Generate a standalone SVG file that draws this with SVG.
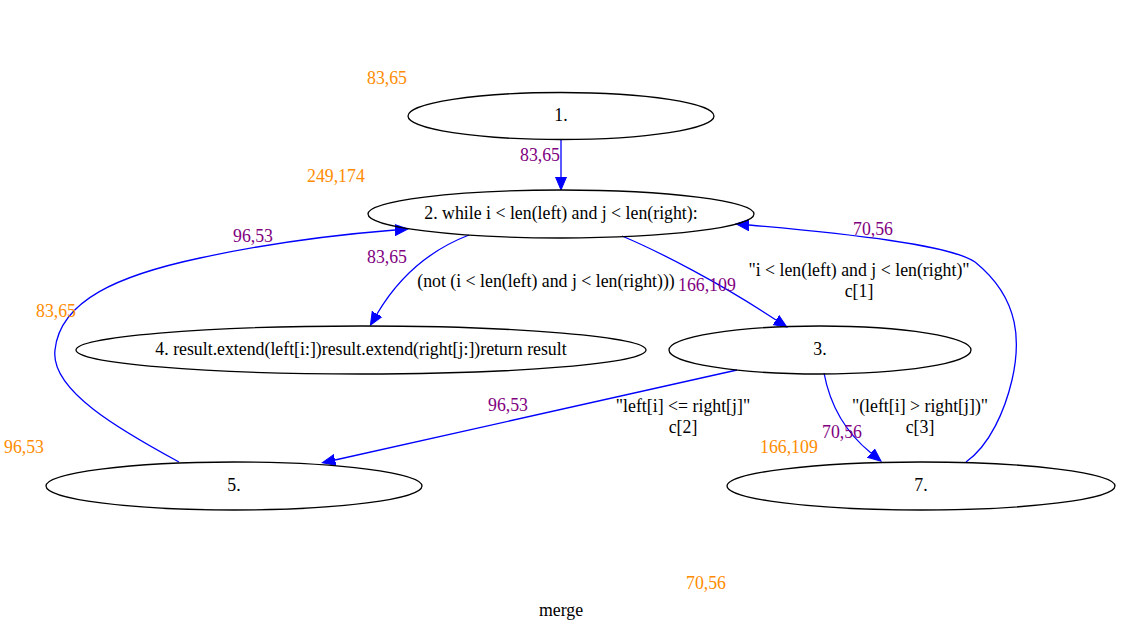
<svg xmlns="http://www.w3.org/2000/svg" width="1121" height="633" viewBox="0 0 1121 633">
<style>
text{font-family:'Liberation Serif','Times New Roman',Times,serif;font-size:17.8px;}
.n{fill:#000;text-anchor:middle;}
.x{fill:#ff8c00;}
.e{fill:#800080;}
.l{fill:#000;text-anchor:middle;}
ellipse{fill:none;stroke:#000;stroke-width:1.3;}
.c{fill:none;stroke:#0000ff;stroke-width:1.3;marker-end:url(#ah);}
</style>
<defs>
<marker id="ah" markerUnits="userSpaceOnUse" viewBox="0 -7 14 14" refX="0" refY="0" markerWidth="14" markerHeight="14" orient="auto">
<path d="M0,-5.5 L13,0 L0,5.5 z" fill="#0000ff" stroke="#0000ff" stroke-width="1"/>
</marker>
</defs>
<rect width="1121" height="633" fill="#fff"/>
<g id="edges" font-family="Liberation Serif, serif">
<path class="c" d="M561,140 L561,177"/>
<path class="c" d="M469,235 C430,250 400,275 377,314"/>
<path class="c" d="M622,236 C660,252 720,283 776,320"/>
<path class="c" d="M737,370 L335,460"/>
<path class="c" d="M824,373 C830,405 845,432 871,453"/>
<path class="c" d="M966,462 C990,445 1005,410 1012,380 C1020,345 1022,300 975,262 C950,245 850,234 749,225"/>
<path class="c" d="M179,462 C120,430 50,390 55,350 C60,300 120,275 200,258 C260,245 320,236 395,230"/>
<text class="e" x="520" y="161">83,65</text>
<text class="e" x="367" y="263">83,65</text>
<text class="l" x="546" y="287">(not (i &lt; len(left) and j &lt; len(right)))</text>
<text class="e" x="678" y="291">166,109</text>
<text class="l" x="859" y="276">"i &lt; len(left) and j &lt; len(right)"</text>
<text class="l" x="859" y="297">c[1]</text>
<text class="e" x="488" y="411">96,53</text>
<text class="l" x="683" y="412">"left[i] &lt;= right[j]"</text>
<text class="l" x="683" y="433">c[2]</text>
<text class="e" x="822" y="438">70,56</text>
<text class="l" x="920" y="412">"(left[i] &gt; right[j])"</text>
<text class="l" x="920" y="433">c[3]</text>
<text class="e" x="853" y="235">70,56</text>
<text class="e" x="233" y="242">96,53</text>
</g>
<g id="node1">
<ellipse cx="561" cy="116" rx="153" ry="23.5"/>
<text class="n" x="561" y="121">1.</text>
<text class="x" x="367" y="84">83,65</text>
</g>
<g id="node2">
<ellipse cx="561" cy="214" rx="193" ry="24"/>
<text class="n" x="561" y="219">2. while i &lt; len(left) and j &lt; len(right):</text>
<text class="x" x="307" y="182">249,174</text>
</g>
<g id="node4">
<ellipse cx="361" cy="350" rx="285" ry="24"/>
<text class="n" x="361" y="355">4. result.extend(left[i:])result.extend(right[j:])return result</text>
<text class="x" x="36" y="317">83,65</text>
</g>
<g id="node3">
<ellipse cx="820" cy="350" rx="151" ry="24"/>
<text class="n" x="820" y="355">3.</text>
</g>
<g id="node5">
<ellipse cx="234" cy="486" rx="188" ry="24"/>
<text class="n" x="234" y="491">5.</text>
<text class="x" x="4" y="453">96,53</text>
</g>
<g id="node7">
<ellipse cx="921" cy="486" rx="194" ry="24"/>
<text class="n" x="921" y="491">7.</text>
<text class="x" x="760" y="453">166,109</text>
</g>
<text class="x" x="686" y="589">70,56</text>
<text class="n" x="561" y="616">merge</text>
</svg>
